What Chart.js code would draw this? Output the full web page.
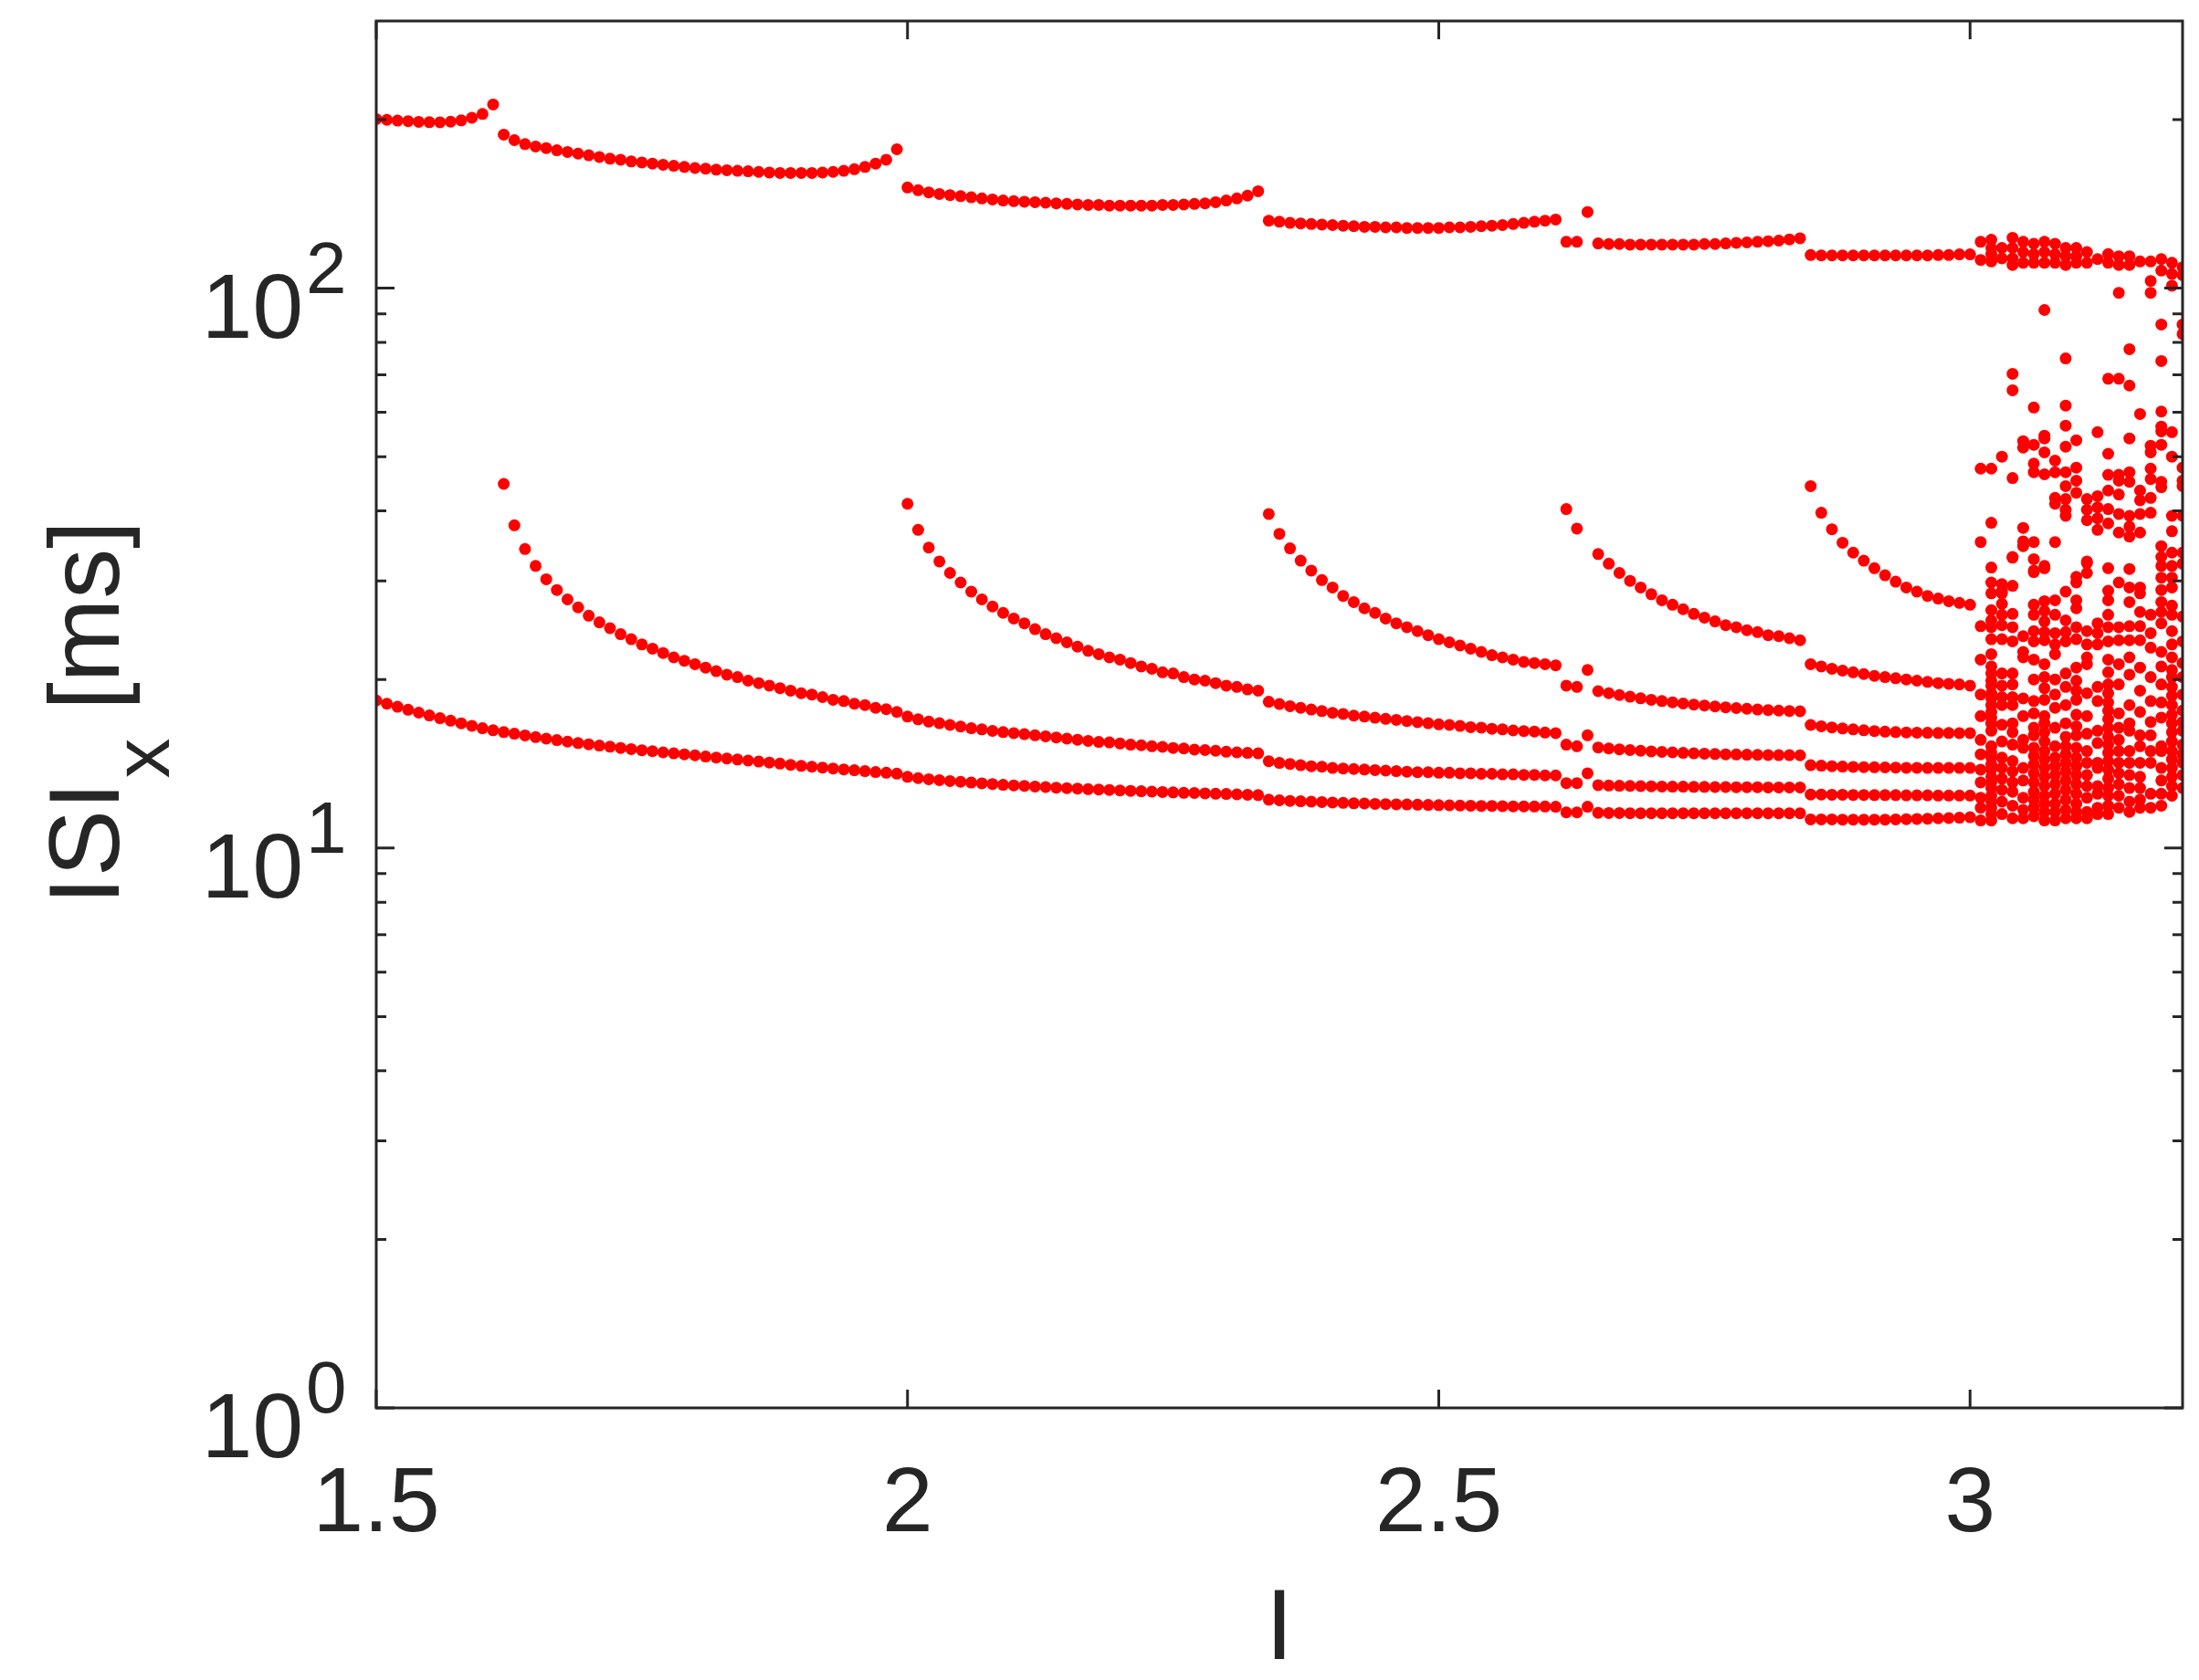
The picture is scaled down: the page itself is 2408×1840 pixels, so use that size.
<!DOCTYPE html>
<html><head><meta charset="utf-8">
<script src="https://cdn.jsdelivr.net/npm/chart.js@4.4.1/dist/chart.umd.min.js"></script>
<style>html,body{margin:0;padding:0;background:#fff;}canvas{display:block;}</style>
</head><body>
<canvas id="c" width="2408" height="1840"></canvas>
<script>
// Stimulus current grid for the periodic part (1.50 .. 3.00)
const I_grid = [1.50,1.51,1.52,1.53,1.54,1.55,1.56,1.57,1.58,1.59,1.60,1.61,1.62,1.63,1.64,1.65,1.66,1.67,1.68,1.69,
1.70,1.71,1.72,1.73,1.74,1.75,1.76,1.77,1.78,1.79,1.80,1.81,1.82,1.83,1.84,1.85,1.86,1.87,1.88,1.89,
1.90,1.91,1.92,1.93,1.94,1.95,1.96,1.97,1.98,1.99,2.00,2.01,2.02,2.03,2.04,2.05,2.06,2.07,2.08,2.09,
2.10,2.11,2.12,2.13,2.14,2.15,2.16,2.17,2.18,2.19,2.20,2.21,2.22,2.23,2.24,2.25,2.26,2.27,2.28,2.29,
2.30,2.31,2.32,2.33,2.34,2.35,2.36,2.37,2.38,2.39,2.40,2.41,2.42,2.43,2.44,2.45,2.46,2.47,2.48,2.49,
2.50,2.51,2.52,2.53,2.54,2.55,2.56,2.57,2.58,2.59,2.60,2.61,2.62,2.63,2.64,2.65,2.66,2.67,2.68,2.69,
2.70,2.71,2.72,2.73,2.74,2.75,2.76,2.77,2.78,2.79,2.80,2.81,2.82,2.83,2.84,2.85,2.86,2.87,2.88,2.89,
2.90,2.91,2.92,2.93,2.94,2.95,2.96,2.97,2.98,2.99,3.00];

// Top branch (longest ISI), from I = 1.50
const isiTop = [200.4,199.8,199.2,198.7,198.2,197.9,197.8,198.3,199.4,201.5,204.7,212.8,
188,183.8,180.8,179.1,177.9,176.3,175.1,173.9,172.7,171.5,170.3,169.6,168.4,167.7,166.9,166.1,165.4,164.6,163.9,163.5,
162.8,162.4,162.0,161.7,161.3,160.9,160.6,160.6,160.6,160.6,160.9,161.3,162.0,163.1,164.6,166.9,169.6,177.0,
151.3,149.6,148.3,147.3,146.6,146.0,145.3,144.6,144.0,143.4,143.0,142.7,142.4,142.1,141.7,141.4,141.1,
140.8,140.8,140.4,140.4,140.4,140.4,140.4,140.8,140.8,141.1,141.4,141.7,142.4,143.4,144.6,146.3,149.0,
132.0,131.4,130.8,130.5,130.2,129.9,129.6,129.3,129.0,128.7,128.7,128.4,128.4,128.1,128.1,128.1,128.1,128.4,128.4,128.7,
129.0,129.3,129.6,130.2,130.8,131.4,132.0,132.6,
121.0,121.0,136.8,
120.2,119.9,119.9,119.6,119.6,119.6,119.6,119.6,119.6,119.6,119.9,119.9,120.2,120.5,120.7,121.0,121.3,121.6,122.2,122.8,
114.6,114.4,114.4,114.4,114.4,114.4,114.4,114.4,114.4,114.4,114.4,114.4,114.6,114.6,114.9,114.9];
const topFrom = 1.50;

// Lowest branch, from I = 1.50
const isiL1 = [18.34,18.10,17.88,17.66,17.45,17.25,17.06,16.88,16.70,16.53,16.37,16.23,16.11,
16.00,15.89,15.78,15.68,15.59,15.49,15.40,15.32,
15.24,15.17,15.09,15.02,14.95,14.89,14.82,14.76,14.70,14.64,
14.57,14.51,14.45,14.39,14.33,14.27,14.21,14.15,14.08,14.02,
13.97,13.92,13.87,13.82,13.77,13.72,13.67,13.63,13.58,
13.40,13.33,13.27,13.22,13.17,13.13,13.09,13.05,13.01,12.97,12.94,12.91,12.88,12.85,12.82,12.79,12.77,12.74,12.72,12.70,
12.67,12.65,12.63,12.61,12.59,12.57,12.55,12.54,12.52,12.50,12.49,12.47,12.45,12.43,
12.20,12.17,12.14,12.12,12.10,12.08,12.06,12.04,12.02,12.01,11.99,11.98,11.97,11.96,11.95,11.94,11.93,11.92,11.91,11.90,
11.89,11.89,11.88,11.87,11.87,11.86,11.86,11.85,
11.58,11.58,11.85,
11.56,11.55,11.55,11.54,11.54,11.54,11.54,11.54,11.54,11.54,11.54,11.54,11.54,11.54,11.54,11.54,11.54,11.54,11.54,11.54,
11.25,11.25,11.25,11.24,11.24,11.24,11.24,11.24,11.25,11.26,11.27,11.28,11.30,11.31,11.33,11.35];
const L1From = 1.50;

// Second branch, from I = 1.62
const isiL2 = [44.7,37.7,34.2,31.9,30.2,28.9,27.8,26.9,26.0,25.3,24.7,24.1,23.6,23.1,22.7,22.3,21.9,21.6,21.3,21.0,
20.7,20.4,20.2,19.9,19.7,19.5,19.3,19.1,18.9,18.8,18.6,18.4,18.3,18.1,18.0,17.8,17.7,17.5,
17.17,16.98,16.82,16.71,16.59,16.48,16.37,16.29,16.19,16.11,16.04,15.97,15.90,15.83,15.76,15.68,15.61,15.54,15.47,15.44,
15.37,15.30,15.26,15.20,15.16,15.09,15.06,14.99,14.96,14.92,14.86,14.82,14.79,14.76,
14.29,14.19,14.13,14.06,14.00,13.97,13.90,13.87,13.84,13.81,13.78,13.75,13.72,13.69,13.66,13.66,13.63,13.63,13.60,13.60,
13.57,13.57,13.54,13.54,13.51,13.51,13.48,13.48,
13.06,13.06,13.60,
12.95,12.93,12.92,12.91,12.90,12.89,12.88,12.87,12.87,12.86,12.86,12.85,12.85,12.84,12.84,12.84,12.83,12.83,12.83,12.83,
12.46,12.46,12.45,12.45,12.44,12.44,12.43,12.43,12.43,12.42,12.42,12.42,12.41,12.41,12.41,12.41];
const L2From = 1.62;

// Third branch, from I = 2.00
const isiL3 = [41.2,37.0,34.4,32.5,31.0,29.8,28.7,27.8,27.0,26.3,25.7,25.2,24.6,24.1,23.7,23.3,22.9,22.5,22.2,21.9,
21.7,21.4,21.1,20.9,20.6,20.5,20.2,20.0,19.9,19.7,19.5,19.4,19.2,19.1,
18.25,18.08,17.92,17.80,17.68,17.56,17.44,17.36,17.24,17.17,17.09,17.01,16.94,16.86,16.78,16.71,16.63,16.59,16.52,16.44,
16.41,16.33,16.29,16.22,16.18,16.15,16.08,16.04,
15.3,15.2,15.9,
15.12,15.06,15.01,14.96,14.92,14.88,14.85,14.82,14.79,14.76,14.74,14.72,14.70,14.69,14.68,14.67,14.66,14.65,14.65,14.64,
14.06,14.03,14.00,13.98,13.96,13.95,13.94,13.93,13.92,13.91,13.91,13.90,13.90,13.90,13.90,13.90];
const L3From = 2.00;

// Fourth branch, from I = 2.34
const isiL4 = [39.5,36.4,34.3,32.6,31.3,30.1,29.2,28.2,27.5,26.8,26.3,25.7,25.2,24.8,24.4,24.0,23.6,23.3,23.0,22.7,
22.4,22.1,21.9,21.7,21.5,21.4,21.3,21.2,
19.5,19.4,20.8,
19.06,18.90,18.76,18.63,18.51,18.40,18.30,18.21,18.12,18.04,17.97,17.90,17.84,17.78,17.73,17.68,17.64,17.60,17.57,17.55,
16.59,16.50,16.42,16.35,16.29,16.23,16.18,16.14,16.11,16.09,16.07,16.06,16.05,16.05,16.04,16.04];
const L4From = 2.34;

// Fifth branch, from I = 2.62 (no point at 2.64)
const isiL5 = [40.3,37.2,null,
33.5,32.2,31.0,30.0,29.2,28.4,27.7,27.2,26.7,26.2,25.8,25.4,25.0,24.8,24.5,24.3,24.0,23.9,23.7,23.5,
21.3,21.1,20.9,20.75,20.6,20.45,20.3,20.2,20.1,20.0,19.9,19.8,19.7,19.65,19.6,19.5];
const L5From = 2.62;

// Sixth branch, from I = 2.85
const isiL6 = [44.3,39.7,37.1,35.1,33.7,32.6,31.6,30.7,29.9,29.2,28.7,28.2,27.9,27.6,27.4,27.2];
const L6From = 2.85;

// Irregular region: one current value per column and the ISIs observed there
const chaosI = [3.01,3.02,3.03,3.04,3.05,3.06,3.07,3.08,3.09,3.10,3.11,3.12,3.13,3.14,3.15,3.16,3.17,3.18,3.19,3.20];
const chaosISI = [
[121,112.3,47.6,35.2,24.9,21.7,18.8,17.2,15.6,14.7,13.8,13.1,12.3,11.8,11.2],
[122,118,115,111.6,47.6,38.1,31.7,29.8,28.5,26.6,25.5,24.8,23.6,22.2,21.1,20.5,19.9,19.5,18.9,18.5,18.0,17.5,17.1,16.7,16.2,15.2,14.8,14.5,14.1,13.8,13.4,13.1,12.8,12.4,12.1,11.8,11.5,11.2],
[118,113,50,29.6,28.8,28.5,27.3,26.1,25.0,23.6,20.5,19.5,18.6,18.0,16.6,15.5,14.5,13.9,13.3,12.7,12.1,11.5],
[123,118,113,110,70.3,65.7,45.8,33.1,33,29.4,26.2,24.8,23.4,20.5,19.6,18.6,18.0,16.7,16.1,15.3,14.3,13.7,13.1,12.6,11.9,11.3],
[121,116,111,53.3,51.9,37.3,35.3,34.6,23.9,22.4,21.9,18.5,17.2,15.6,15.1,13.9,13.2,12.3,11.7,11.3],
[120,115,111,61.2,52.5,48.6,46.9,35.2,32.8,31.1,31.3,27.2,26.1,24.4,23.4,21.7,20.0,18.3,17.4,16.4,15.9,15.1,14.6,14.1,13.6,13.1,12.6,12.2,11.8,11.4],
[121,116,111,91.4,54.5,53.9,50.9,46.5,31.9,31.6,27.6,26.5,25.4,24.3,23.5,21.3,20.2,19.3,18.4,17.2,16.7,16.1,15.5,14.9,14.4,13.9,13.4,12.9,12.4,12.0,11.6,11.2],
[120,115,111,49.2,46.9,42.2,41.2,35.2,27.7,26.1,24.2,23.1,22.2,20.0,18.8,17.8,16.4,15.2,14.5,14.0,13.5,13.0,12.5,12.0,11.6,11.2],
[118,114,110,74.9,61.7,56.8,52.1,46.9,44.3,42,40.2,39.2,28.7,25.5,24.3,23.4,20.5,19.4,18.0,16.7,15.8,15.2,14.7,14.2,13.7,13.2,12.7,12.2,11.7,11.3],
[118,114,111,53.5,47.8,45.3,43.1,30.5,29.8,27.7,26.8,24.8,23.6,21.0,19.9,19.1,18.4,17.3,16.5,15.9,15.1,14.5,14.0,13.5,13.0,12.5,12.0,11.6,11.3],
[116,111,42,40.2,38.5,32.5,32.3,31.0,24.4,23.1,21.9,21.3,18.9,17.2,16.0,14.9,14.2,13.5,12.9,12.3,11.6,11.3],
[112.7,55.3,42.5,40.6,38.8,37.0,25.2,24.2,23.1,19.4,18.3,16.2,15.4,14.2,13.9,12.9,12.5,11.8,11.5],
[115,111,68.9,50.6,46.4,43.5,40.3,38.0,31.6,28.8,27.7,26.1,24.8,23.4,21.7,20.6,19.6,18.9,18.2,17.6,17.0,16.4,15.8,15.3,14.8,14.3,13.8,13.3,12.8,12.4,11.9,11.5],
[114,110,98.1,68.9,46.4,45.3,42.8,39.5,36.6,29.8,24.8,23.5,21.3,19.6,17.4,16.4,15.6,14.9,14.2,13.6,13.0,12.4,11.8],
[114,110,77.8,67.0,53.9,46.9,45.1,39.2,37.5,36.0,31.5,29.2,27.5,24.9,23.5,21.9,20.4,18.0,16.7,16.2,14.9,14.2,13.5,12.8,12.1,11.6],
[111.6,59.6,43.5,41.8,39.5,36.6,29.2,28.5,26.4,24.9,23.5,21.0,19.1,17.5,15.9,15.2,14.2,13.4,12.8,12.2,11.8],
[111.6,103.0,98.1,52.3,50.9,47.6,45.6,42.2,39.7,26.1,24.2,22.8,20.2,18.3,16.8,15.9,14.9,14.2,12.5,11.8],
[112.7,107.5,86.1,74.1,60.2,56.6,55.5,52.5,45.1,44.1,34.6,33.1,31.9,30.4,28.9,27.5,26.4,25.2,22.4,21.1,19.6,18.2,17.1,15.2,14.9,13.9,13.2,12.5,11.9],
[111,106,101,55.3,50,39.2,36.8,33.7,31.9,30.4,29.2,27.1,26.1,24.4,23.1,21.9,20.8,20.2,19.4,18.7,18.0,17.3,16.7,16.1,15.5,14.9,14.4,13.9,13.4,12.9,12.4],
[109,105.5,86.1,82.8,47.8,45.3,44.3,39.2,33.7,32.2,25.9,23.4,21.4,20.2,18.8,17.6,16.8,16.2,15.3,14.7,14.2,13.5,12.8]
];

const xTicks = [1.5, 2, 2.5, 3];
const xTickLabels = ['1.5', '2', '2.5', '3'];
const yDecades = [1, 10, 100];
const yDecadeExp = ['0', '1', '2'];
const xMin = 1.5, xMax = 3.2, yMin = 1, yMax = 300;

// ---- build points ----
const pts = [];
function addBranch(vals, from) {
  const i0 = I_grid.findIndex(v => Math.abs(v - from) < 1e-9);
  vals.forEach((y, k) => { if (y !== null) pts.push({x: I_grid[i0 + k], y: y}); });
}
addBranch(isiTop, topFrom);
addBranch(isiL1, L1From);
addBranch(isiL2, L2From);
addBranch(isiL3, L3From);
addBranch(isiL4, L4From);
addBranch(isiL5, L5From);
addBranch(isiL6, L6From);
chaosI.forEach((x, j) => chaosISI[j].forEach(y => pts.push({x: x, y: y})));

const AX = '#262626';
const FONT = '"Liberation Sans", Arial, Helvetica, sans-serif';

const axesPlugin = {
  id: 'matlabAxes',
  afterDraw(chart) {
    const ctx = chart.ctx, a = chart.chartArea;
    const xs = chart.scales.x, ys = chart.scales.y;
    ctx.save();
    ctx.strokeStyle = AX; ctx.lineWidth = 3;
    ctx.strokeRect(a.left, a.top, a.right - a.left, a.bottom - a.top);
    ctx.beginPath();
    xTicks.forEach(v => {
      const px = xs.getPixelForValue(v);
      ctx.moveTo(px, a.bottom); ctx.lineTo(px, a.bottom - 20);
      ctx.moveTo(px, a.top); ctx.lineTo(px, a.top + 20);
    });
    for (let d = 0; d < 3; d++) {
      for (let m = 1; m <= 9; m++) {
        const v = m * Math.pow(10, d);
        if (v < yMin || v >= yMax) continue;
        const py = ys.getPixelForValue(v);
        const len = (m === 1) ? 20 : 11;
        ctx.moveTo(a.left, py); ctx.lineTo(a.left + len, py);
        ctx.moveTo(a.right, py); ctx.lineTo(a.right - len, py);
      }
    }
    ctx.stroke();
    ctx.fillStyle = AX;
    ctx.font = '100px ' + FONT;
    ctx.textAlign = 'center'; ctx.textBaseline = 'alphabetic';
    xTicks.forEach((v, i) => ctx.fillText(xTickLabels[i], xs.getPixelForValue(v), 1677));
    yDecades.forEach((v, i) => {
      const py = ys.getPixelForValue(v);
      ctx.font = '100px ' + FONT; ctx.textAlign = 'right';
      ctx.fillText('10', 332, py + 54);
      ctx.font = '80px ' + FONT; ctx.textAlign = 'left';
      ctx.fillText(yDecadeExp[i], 335, py + 5);
    });
    ctx.font = '110px ' + FONT; ctx.textAlign = 'center';
    ctx.fillText('I', (a.left + a.right) / 2, 1817);
    ctx.translate(130, (a.top + a.bottom) / 2);
    ctx.rotate(-Math.PI / 2);
    ctx.font = '110px ' + FONT;
    const w1 = ctx.measureText('ISI').width;
    ctx.font = '88px ' + FONT;
    const w2 = ctx.measureText('x').width;
    ctx.font = '110px ' + FONT;
    const w3 = ctx.measureText(' [ms]').width;
    let x0 = -(w1 + w2 + w3) / 2;
    ctx.textAlign = 'left';
    ctx.fillText('ISI', x0, 0);
    ctx.font = '88px ' + FONT;
    ctx.fillText('x', x0 + w1 + 4, 55);
    ctx.font = '110px ' + FONT;
    ctx.fillText(' [ms]', x0 + w1 + w2 + 4, 0);
    ctx.restore();
  }
};

new Chart(document.getElementById('c'), {
  type: 'scatter',
  data: { datasets: [{ data: pts, backgroundColor: '#ff0000', borderWidth: 0, pointRadius: 6.5, pointHoverRadius: 6.5 }] },
  options: {
    responsive: false, animation: false, devicePixelRatio: 1,
    layout: { padding: { left: 412, top: 23, right: 18, bottom: 298 } },
    plugins: { legend: { display: false }, tooltip: { enabled: false } },
    scales: {
      x: { type: 'linear', min: xMin, max: xMax, display: false },
      y: { type: 'logarithmic', min: yMin, max: yMax, display: false }
    }
  },
  plugins: [axesPlugin]
});
</script>
</body></html>
